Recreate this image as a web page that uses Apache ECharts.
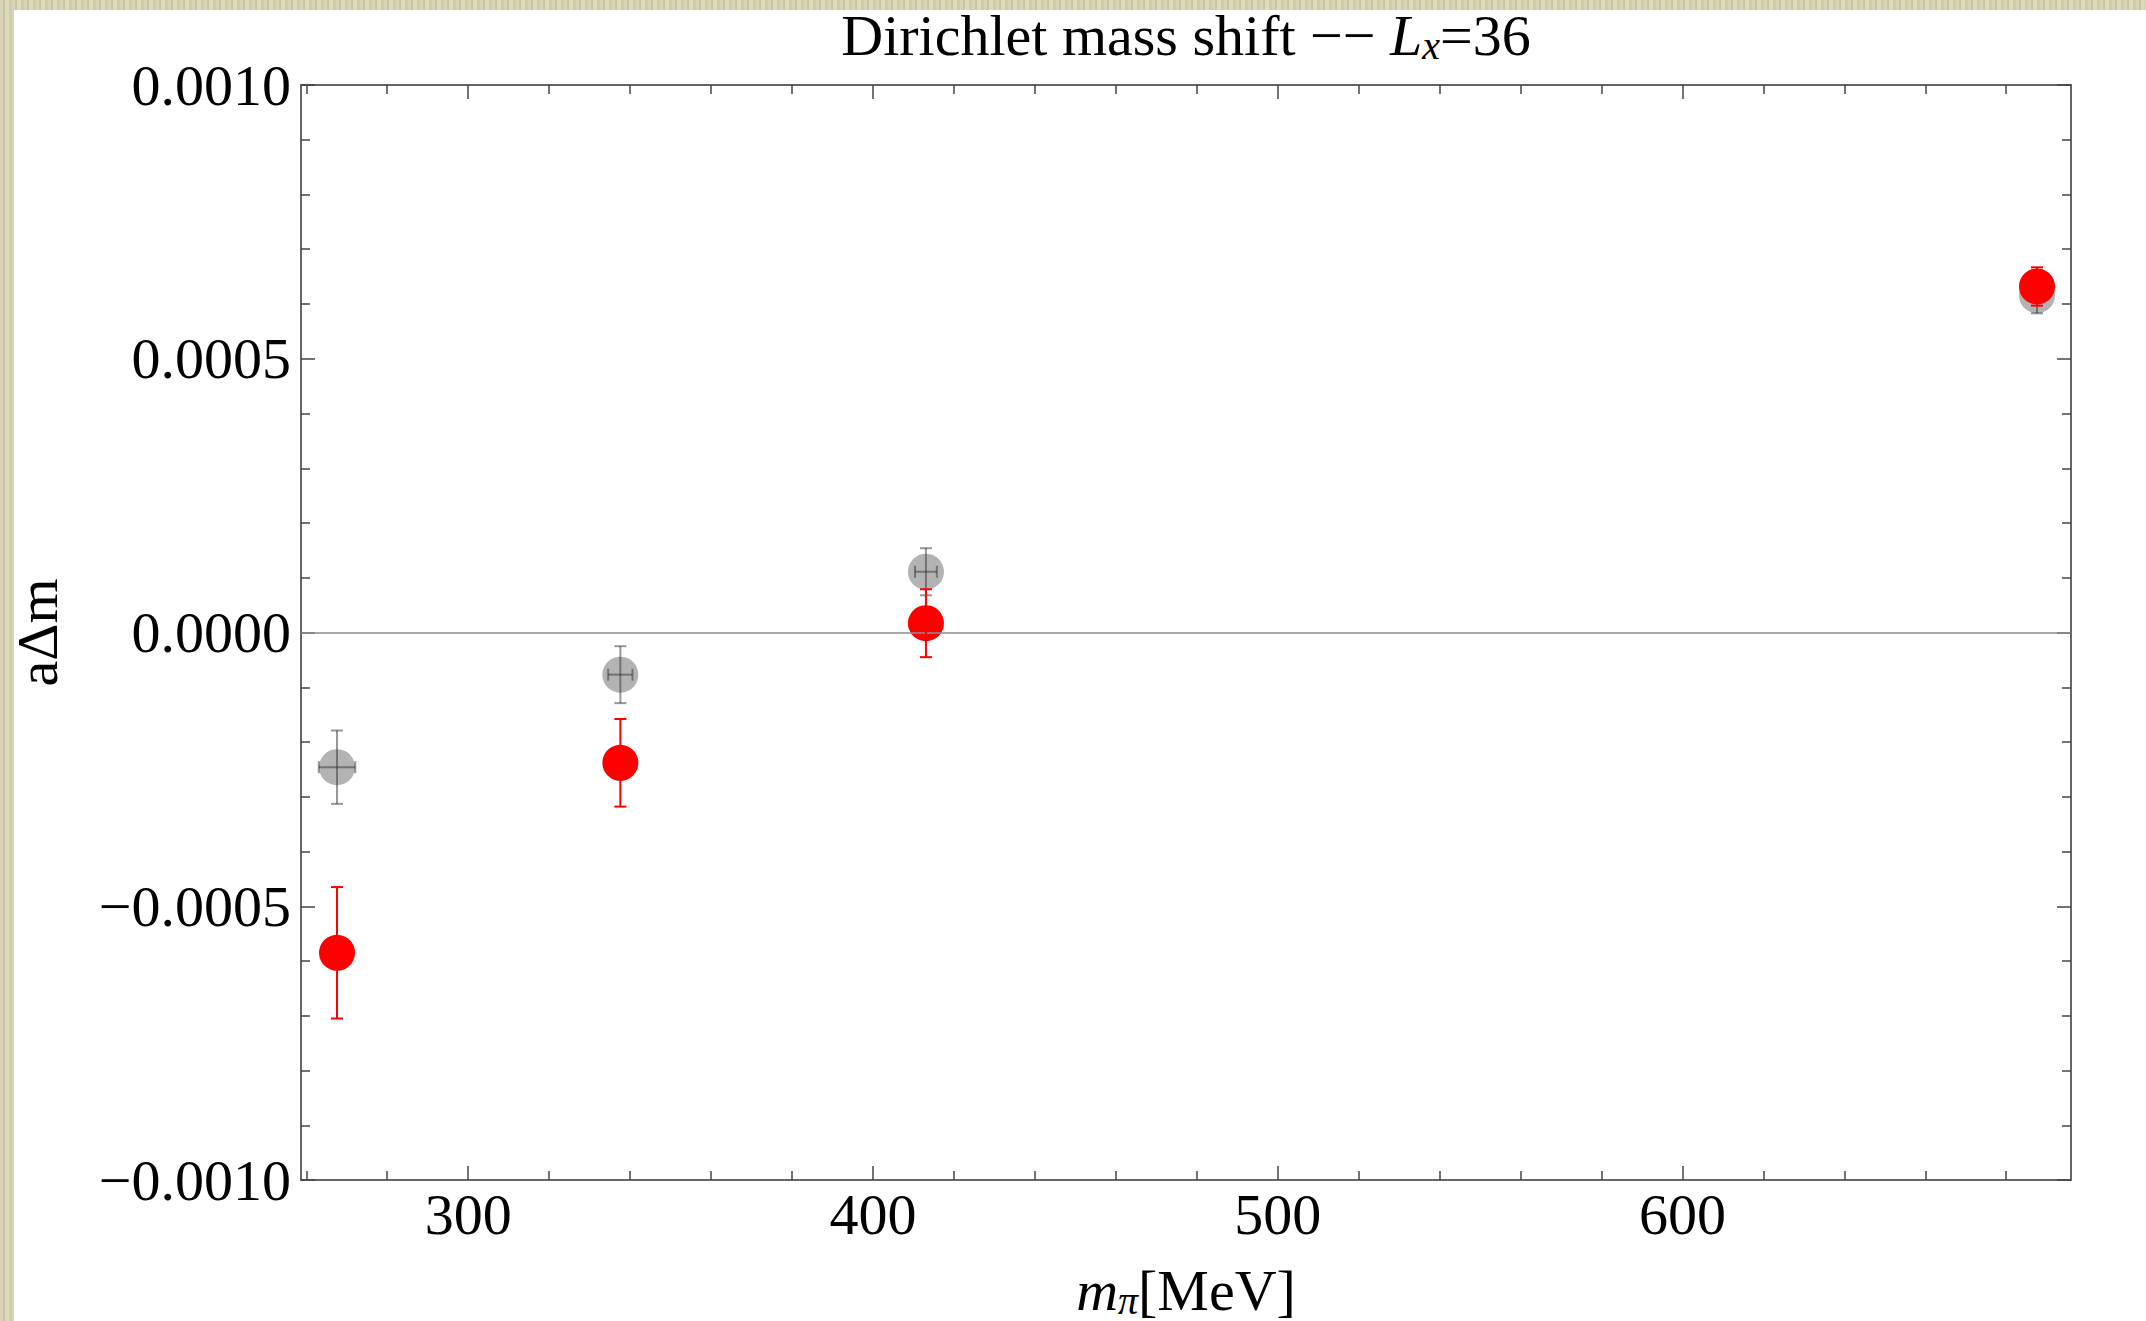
<!DOCTYPE html>
<html>
<head>
<meta charset="utf-8">
<script src="https://cdn.jsdelivr.net/npm/echarts@6/dist/echarts.min.js"></script>
<style>
  html, body { margin: 0; padding: 0; }
  body {
    width: 2146px; height: 1321px; overflow: hidden; position: relative;
    background: repeating-linear-gradient(90deg, #d8d5b6 0 3px, #c9c6a4 3px 5px, #dedbbd 5px 9px, #cfccab 9px 12px);
  }
  #paper { position: absolute; left: 14px; top: 10px; right: 0; bottom: 0; background: #fff; }
  #chart { position: absolute; left: 0; top: 0; width: 2146px; height: 1321px; }
</style>
</head>
<body>
<div id="paper"></div>
<div id="chart"></div>
<script>
// m_pi [MeV] for each ensemble
const mpi = [267.6, 337.6, 413.1, 687.6]
// gray points (with x and y errors)
const grayShift = [-0.000246, -0.000077, 0.000111, 0.000616]
const grayErr = [0.000067, 0.000052, 0.000043, 0.000033]
const grayXErr = [4.5, 3.0, 2.7, 1.5]
// red points
const redShift = [-0.000585, -0.000238, 0.000017, 0.000632]
const redErr = [0.00012, 0.00008, 0.000062, 0.000035]

const xMajor = [300, 400, 500, 600]
const xMinor = [260, 280, 320, 340, 360, 380, 420, 440, 460, 480, 520, 540, 560, 580, 620, 640, 660, 680]
const xMin = 258.7
const xMax = 696

const serif = 'Liberation Serif'
const frame = '#666'
const tickCol = '#444'
const fs = 58

const chart = echarts.init(document.getElementById('chart'), null, { renderer: 'svg' })

function fmtY(v) {
  if (Math.abs(v) < 1e-12) return '0.0000'
  return v.toFixed(4).replace('-', '\u2212')
}

function xAxisDef(pos, ticks, len, showLine, showLabel) {
  return {
    type: 'value', position: pos, min: xMin, max: xMax,
    splitLine: { show: false },
    axisLine: { show: showLine, onZero: false, lineStyle: { color: frame, width: 2 } },
    axisTick: { show: true, inside: true, length: len, customValues: ticks, lineStyle: { color: tickCol, width: 1.5 } },
    axisLabel: {
      show: showLabel, customValues: ticks, margin: 5,
      fontFamily: serif, fontSize: fs, color: '#000'
    }
  }
}

function yAxisDef(pos, showLabel) {
  return {
    type: 'value', position: pos, min: -0.001, max: 0.001, interval: 0.0005,
    splitLine: { show: false },
    axisLine: { show: true, onZero: false, lineStyle: { color: frame, width: 2 } },
    axisTick: { inside: true, length: 14, lineStyle: { color: tickCol, width: 1.5 } },
    minorTick: { show: true, splitNumber: 5, length: 9, lineStyle: { color: tickCol, width: 1.5 } },
    axisLabel: { show: showLabel, margin: 10, fontFamily: serif, fontSize: fs, color: '#000', formatter: fmtY }
  }
}

const xAxes = [
  xAxisDef('bottom', xMajor, 14, true, true),
  xAxisDef('bottom', xMinor, 9, false, false),
  xAxisDef('top', xMajor, 14, true, false),
  xAxisDef('top', xMinor, 9, false, false)
]
xAxes[0].name = '{i|m}{s|π}{n|[MeV]}'
xAxes[0].nameLocation = 'middle'
xAxes[0].nameGap = 80
xAxes[0].nameTextStyle = {
  rich: {
    i: { fontFamily: serif, fontStyle: 'italic', fontSize: fs, lineHeight: 60, color: '#000' },
    s: { fontFamily: serif, fontStyle: 'italic', fontSize: 40, lineHeight: 28, verticalAlign: 'bottom', color: '#000' },
    n: { fontFamily: serif, fontSize: fs, lineHeight: 60, color: '#000' }
  }
}

const yAxes = [yAxisDef('left', true), yAxisDef('right', false)]
yAxes[0].name = 'aΔm'
yAxes[0].nameLocation = 'middle'
yAxes[0].nameRotate = 90
yAxes[0].nameGap = 235
yAxes[0].nameTextStyle = { fontFamily: serif, fontSize: fs, color: '#000' }

// error bar renderer: value = [x, y, yerr, xerr]
function errorBarItem(color, width) {
  return function (params, api) {
    const x = api.value(0), y = api.value(1), e = api.value(2), xe = api.value(3)
    const top = api.coord([x, y + e])
    const bot = api.coord([x, y - e])
    const cap = 6
    const style = { stroke: color, lineWidth: width }
    const kids = [
      { type: 'line', shape: { x1: top[0], y1: top[1], x2: bot[0], y2: bot[1] }, style },
      { type: 'line', shape: { x1: top[0] - cap, y1: top[1], x2: top[0] + cap, y2: top[1] }, style },
      { type: 'line', shape: { x1: bot[0] - cap, y1: bot[1], x2: bot[0] + cap, y2: bot[1] }, style }
    ]
    if (xe > 0) {
      const l = api.coord([x - xe, y])
      const r = api.coord([x + xe, y])
      kids.push(
        { type: 'line', shape: { x1: l[0], y1: l[1], x2: r[0], y2: r[1] }, style },
        { type: 'line', shape: { x1: l[0], y1: l[1] - cap, x2: l[0], y2: l[1] + cap }, style },
        { type: 'line', shape: { x1: r[0], y1: r[1] - cap, x2: r[0], y2: r[1] + cap }, style }
      )
    }
    return { type: 'group', children: kids }
  }
}

const option = {
  animation: false,
  grid: { left: 301, top: 85, right: 75, bottom: 141, outerBoundsMode: 'none' },
  xAxis: xAxes,
  yAxis: yAxes,
  graphic: [{
    type: 'text', x: 1186, y: 5,
    style: {
      text: '{n|Dirichlet mass shift \u2212\u2212 }{i|L}{s|x}{n|=36}',
      align: 'center', verticalAlign: 'top',
      rich: {
        n: { fontFamily: serif, fontSize: fs, lineHeight: 60, fill: '#000' },
        i: { fontFamily: serif, fontStyle: 'italic', fontSize: fs, lineHeight: 60, fill: '#000' },
        s: { fontFamily: serif, fontStyle: 'italic', fontSize: 40, lineHeight: 28, verticalAlign: 'bottom', fill: '#000' }
      }
    }
  }],
  series: [
    {
      type: 'scatter', data: [], z: 1, silent: true,
      markLine: {
        silent: true, symbol: 'none', label: { show: false },
        lineStyle: { color: '#8c8c8c', width: 1.5, type: 'solid' },
        data: [{ yAxis: 0 }]
      }
    },
    {
      name: 'gray', type: 'scatter', z: 2, symbol: 'circle', symbolSize: 36,
      itemStyle: { color: '#b3b3b3', opacity: 1 },
      data: mpi.map((x, i) => [x, grayShift[i]])
    },
    {
      type: 'custom', z: 3, renderItem: errorBarItem('rgba(50,50,50,0.5)', 2),
      data: mpi.map((x, i) => [x, grayShift[i], grayErr[i], grayXErr[i]])
    },
    {
      name: 'red', type: 'scatter', z: 4, symbol: 'circle', symbolSize: 36,
      itemStyle: { color: '#ff0000', opacity: 1 },
      data: mpi.map((x, i) => [x, redShift[i]])
    },
    {
      type: 'custom', z: 5, renderItem: errorBarItem('#ff0000', 2),
      data: mpi.map((x, i) => [x, redShift[i], redErr[i], 0])
    }
  ]
}

chart.setOption(option)
</script>
</body>
</html>
